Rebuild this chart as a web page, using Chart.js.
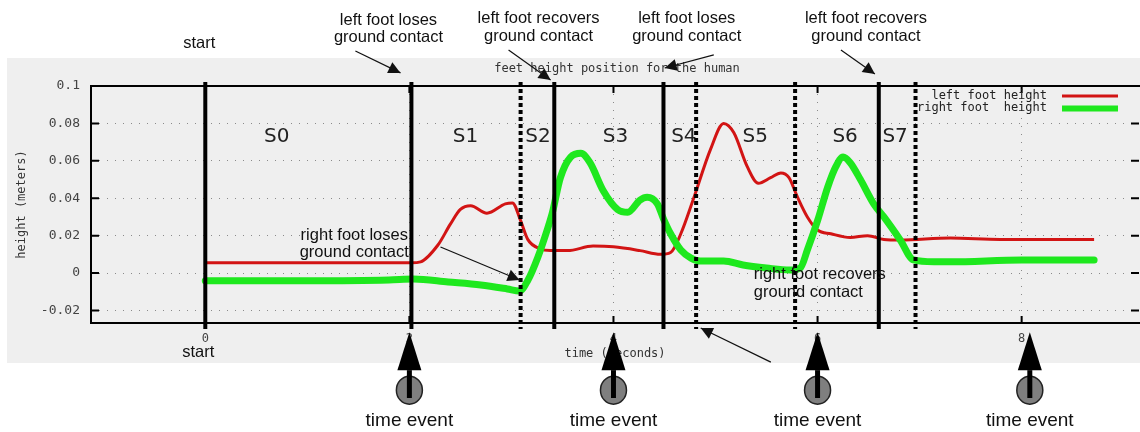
<!DOCTYPE html>
<html><head><meta charset="utf-8">
<script src="https://cdn.jsdelivr.net/npm/chart.js@4.4.1/dist/chart.umd.min.js"></script>
<style>html,body{margin:0;padding:0;background:#fff}canvas{display:block}</style>
</head><body>
<canvas id="c" width="1140" height="432"></canvas>
<script>
// ---- data ----
const leftTimes   = [0, 1.0, 2.02, 2.11, 2.28, 2.40, 2.50, 2.60, 2.76, 2.94, 3.01, 3.09, 3.16, 3.28, 3.38, 3.55, 3.80, 4.00, 4.26, 4.46, 4.56, 4.66, 4.78, 4.95, 5.08, 5.18, 5.31, 5.42, 5.54, 5.64, 5.72, 5.80, 5.90, 6.00, 6.13, 6.32, 6.49, 6.65, 6.81, 7.30, 7.79, 8.71];
const leftHeights = [0.0055, 0.0055, 0.0055, 0.006, 0.015, 0.026, 0.034, 0.036, 0.032, 0.037, 0.0375, 0.028, 0.018, 0.013, 0.012, 0.012, 0.0144, 0.014, 0.012, 0.010, 0.011, 0.021, 0.039, 0.066, 0.080, 0.075, 0.057, 0.048, 0.051, 0.0535, 0.051, 0.041, 0.030, 0.023, 0.021, 0.019, 0.020, 0.018, 0.0177, 0.0187, 0.018, 0.018];
const rightTimes   = [0, 1.0, 1.8, 2.04, 2.38, 2.70, 2.96, 3.08, 3.16, 3.26, 3.35, 3.40, 3.48, 3.58, 3.68, 3.77, 3.90, 4.04, 4.14, 4.26, 4.33, 4.43, 4.49, 4.56, 4.66, 4.76, 4.85, 5.08, 5.27, 5.50, 5.73, 5.83, 5.90, 6.00, 6.10, 6.18, 6.25, 6.32, 6.42, 6.55, 6.65, 6.81, 6.94, 7.14, 7.30, 8.00, 8.71];
const rightHeights = [-0.0041, -0.0041, -0.0037, -0.0032, -0.0048, -0.0064, -0.0085, -0.0096, -0.004, 0.0086, 0.023, 0.032, 0.051, 0.062, 0.064, 0.059, 0.044, 0.034, 0.0325, 0.039, 0.0405, 0.037, 0.029, 0.021, 0.0123, 0.008, 0.0064, 0.0064, 0.0043, 0.0027, 0.0016, 0.0027, 0.0123, 0.028, 0.046, 0.057, 0.062, 0.059, 0.050, 0.037, 0.030, 0.0177, 0.007, 0.006, 0.006, 0.007, 0.007];
const yTicks = [-0.02, 0, 0.02, 0.04, 0.06, 0.08, 0.1];
const yTickLabels = ['-0.02', '0', '0.02', '0.04', '0.06', '0.08', '0.1'];
const xTicks = [0, 2, 4, 6, 8];
const xTickLabels = ['0', '2', '4', '6', '8'];
const solidEvents = [0, 2.02, 3.42, 4.49, 6.60];
const dottedEvents = [3.09, 4.81, 5.78, 6.96];
const phaseNames = ['S0', 'S1', 'S2', 'S3', 'S4', 'S5', 'S6', 'S7'];
const phaseTimes = [0.70, 2.55, 3.26, 4.02, 4.69, 5.39, 6.27, 6.76];
const timeEvents = [2, 4, 6, 8.08];
const seriesNames = ['left foot height', 'right foot  height'];

// annotation layout (in data coordinates)
const notes = [
  {lines:['left foot loses','ground contact'], t:1.795, v:[0.1353,0.1257], from:[1.471,0.1187], to:[1.913,0.1070]},
  {lines:['left foot recovers','ground contact'], t:3.266, v:[0.1363,0.1267], from:[2.972,0.1193], to:[3.384,0.1032]},
  {lines:['left foot loses','ground contact'], t:4.718, v:[0.1363,0.1267], from:[4.983,0.1166], to:[4.502,0.1096]},
  {lines:['left foot recovers','ground contact'], t:6.474, v:[0.1363,0.1267], from:[6.229,0.1193], to:[6.562,0.1064]},
  {lines:['right foot loses','ground contact'], t:1.46, v:[0.0203,0.0112], from:[2.305,0.0139], to:[3.080,-0.0037]},
  {lines:['right foot recovers','ground contact'], t:5.375, align:'left', v:[-0.0005,-0.0102], from:[5.542,-0.0476], to:[4.855,-0.0294]},
  {lines:['start'], t:-0.059, v:[0.123]},
  {lines:['start'], t:-0.069, v:[-0.0422]}
];

function arrow(ctx, x1, y1, x2, y2, len, hw) {
  ctx.beginPath(); ctx.moveTo(x1, y1); ctx.lineTo(x2, y2); ctx.stroke();
  const a = Math.atan2(y2 - y1, x2 - x1);
  ctx.beginPath();
  ctx.moveTo(x2, y2);
  ctx.lineTo(x2 - len*Math.cos(a) + hw*Math.sin(a), y2 - len*Math.sin(a) - hw*Math.cos(a));
  ctx.lineTo(x2 - len*Math.cos(a) - hw*Math.sin(a), y2 - len*Math.sin(a) + hw*Math.cos(a));
  ctx.closePath(); ctx.fill();
}

const deco = {
  id: 'deco',
  beforeDraw(chart) {
    const ctx = chart.ctx;
    ctx.save();
    ctx.fillStyle = '#ffffff'; ctx.fillRect(0, 0, chart.width, chart.height);
    ctx.fillStyle = '#efefef'; ctx.fillRect(7, 58, chart.width - 7, 305);
    ctx.restore();
  },
  afterDatasetsDraw(chart) {
    const ctx = chart.ctx, ca = chart.chartArea;
    const X = t => chart.scales.x.getPixelForValue(t);
    const Y = v => chart.scales.y.getPixelForValue(v);
    ctx.save();
    // frame
    ctx.strokeStyle = '#000'; ctx.lineWidth = 2;
    ctx.strokeRect(ca.left, ca.top, ca.right - ca.left + 3, ca.bottom - ca.top);
    // inward tick marks
    ctx.lineWidth = 2;
    yTicks.forEach(v => {
      const y = Y(v);
      ctx.beginPath(); ctx.moveTo(ca.left, y); ctx.lineTo(ca.left + 8, y);
      ctx.moveTo(ca.right, y); ctx.lineTo(ca.right - 8, y); ctx.stroke();
    });
    xTicks.forEach(t => {
      const x = X(t);
      ctx.beginPath(); ctx.moveTo(x, ca.bottom); ctx.lineTo(x, ca.bottom - 7);
      ctx.moveTo(x, ca.top); ctx.lineTo(x, ca.top + 7); ctx.stroke();
    });
    // title & axis titles
    ctx.fillStyle = '#333';
    ctx.font = '12px "DejaVu Sans Mono"';
    ctx.textAlign = 'center'; ctx.textBaseline = 'middle';
    ctx.fillText('feet height position for the human', (ca.left + ca.right) / 2 + 2, ca.top - 17);
    ctx.fillText('time (seconds)', (ca.left + ca.right) / 2, ca.bottom + 31);
    ctx.save();
    ctx.translate(22, (ca.top + ca.bottom) / 2);
    ctx.rotate(-Math.PI / 2);
    ctx.fillText('height (meters)', 0, 0);
    ctx.restore();
    // legend
    ctx.textAlign = 'right';
    ctx.fillStyle = '#222';
    ctx.fillText(seriesNames[0], 1047, ca.top + 10);
    ctx.fillText(seriesNames[1], 1047, ca.top + 22);
    ctx.lineCap = 'butt';
    ctx.strokeStyle = chart.data.datasets[0].borderColor; ctx.lineWidth = 3;
    ctx.beginPath(); ctx.moveTo(1062, ca.top + 10); ctx.lineTo(1118, ca.top + 10); ctx.stroke();
    ctx.strokeStyle = chart.data.datasets[1].borderColor; ctx.lineWidth = 6;
    ctx.beginPath(); ctx.moveTo(1062, ca.top + 22.5); ctx.lineTo(1118, ca.top + 22.5); ctx.stroke();
    // phase labels
    ctx.fillStyle = '#222'; ctx.textAlign = 'center';
    ctx.font = '20px "DejaVu Sans"';
    phaseNames.forEach((n, i) => ctx.fillText(n, X(phaseTimes[i]), Y(0.0727)));
    // event lines
    ctx.strokeStyle = '#000'; ctx.lineWidth = 4;
    solidEvents.forEach(t => {
      ctx.beginPath(); ctx.moveTo(X(t), ca.top - 4); ctx.lineTo(X(t), ca.bottom + 6); ctx.stroke();
    });
    ctx.setLineDash([4, 3]);
    dottedEvents.forEach(t => {
      ctx.beginPath(); ctx.moveTo(X(t), ca.top - 4); ctx.lineTo(X(t), ca.bottom + 6); ctx.stroke();
    });
    ctx.setLineDash([]);
    // annotations
    ctx.fillStyle = '#111'; ctx.strokeStyle = '#111'; ctx.lineWidth = 1.2;
    ctx.font = '16.5px "Liberation Sans"';
    notes.forEach(n => {
      ctx.textAlign = n.align || 'center';
      n.lines.forEach((s, i) => ctx.fillText(s, X(n.t), Y(n.v[i])));
      if (n.from) arrow(ctx, X(n.from[0]), Y(n.from[1]), X(n.to[0]), Y(n.to[1]), 12, 6);
    });
    // time event markers
    ctx.textAlign = 'center';
    timeEvents.forEach(t => {
      const x = X(t);
      ctx.beginPath(); ctx.ellipse(x, Y(-0.0626), 13, 14, 0, 0, Math.PI * 2);
      ctx.fillStyle = '#7f7f7f'; ctx.fill();
      ctx.strokeStyle = '#222'; ctx.lineWidth = 1.5; ctx.stroke();
      ctx.fillStyle = '#000'; ctx.strokeStyle = '#000';
      ctx.lineWidth = 5;
      ctx.beginPath(); ctx.moveTo(x, Y(-0.0519)); ctx.lineTo(x, Y(-0.0668)); ctx.stroke();
      ctx.beginPath(); ctx.moveTo(x, Y(-0.0316)); ctx.lineTo(x - 12, Y(-0.0519)); ctx.lineTo(x + 12, Y(-0.0519));
      ctx.closePath(); ctx.fill();
      ctx.fillStyle = '#111'; ctx.font = '19px "Liberation Sans"';
      ctx.fillText('time event', x, Y(-0.0791));
    });
    ctx.restore();
  }
};

const tickFont = {family: 'DejaVu Sans Mono', size: 12};
new Chart(document.getElementById('c'), {
  type: 'line',
  data: {
    datasets: [
      {label: seriesNames[0], data: leftTimes.map((t, i) => ({x: t, y: leftHeights[i]})),
       borderColor: 'rgb(210,20,20)', borderWidth: 3, pointRadius: 0, cubicInterpolationMode: 'monotone', order: 1},
      {label: seriesNames[1], data: rightTimes.map((t, i) => ({x: t, y: rightHeights[i]})),
       borderColor: 'rgb(30,232,30)', borderWidth: 7, pointRadius: 0, cubicInterpolationMode: 'monotone',
       borderJoinStyle: 'round', borderCapStyle: 'round', order: 0}
    ]
  },
  options: {
    responsive: false, animation: false, devicePixelRatio: 1,
    layout: {padding: {left: 0, right: 1, top: 86, bottom: 0}},
    plugins: {legend: {display: false}, tooltip: {enabled: false}},
    scales: {
      x: {type: 'linear', min: -1.12, max: 9.15,
          afterFit: s => { s.height = 109; },
          afterBuildTicks: s => { s.ticks = xTicks.map(v => ({value: v})); },
          ticks: {callback: (v, i) => xTickLabels[i], font: tickFont, color: '#444', padding: 9, autoSkip: false, maxRotation: 0},
          grid: {color: '#8a8a8a', drawTicks: false, lineWidth: 1},
          border: {display: false, dash: [1, 7]}},
      y: {type: 'linear', min: -0.0267, max: 0.1,
          afterFit: s => { s.width = 91; },
          afterBuildTicks: s => { s.ticks = yTicks.map(v => ({value: v})); },
          ticks: {callback: (v, i) => yTickLabels[i], font: {family: 'DejaVu Sans Mono', size: 13}, color: '#444', padding: 11},
          grid: {color: '#8a8a8a', drawTicks: false, lineWidth: 1},
          border: {display: false, dash: [1, 7]}}
    }
  },
  plugins: [deco]
});
</script>
</body></html>
